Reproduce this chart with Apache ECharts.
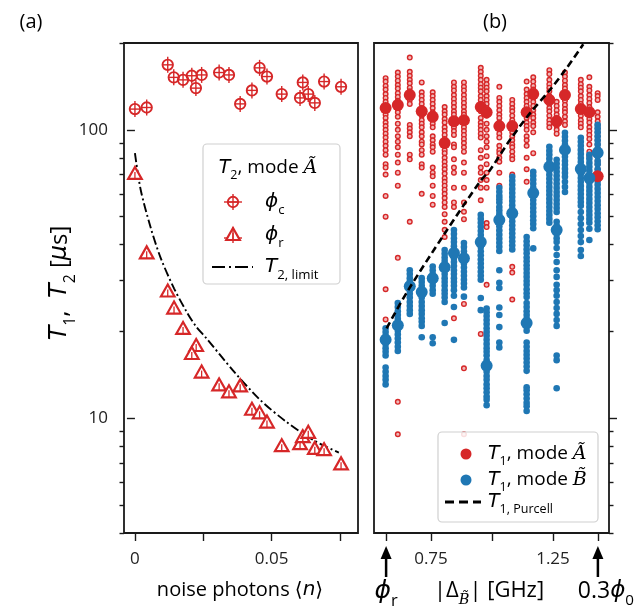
<!DOCTYPE html>
<html>
<head>
<meta charset="utf-8">
<script src="https://cdn.jsdelivr.net/npm/echarts@6/dist/echarts.min.js"></script>
<style>
  html, body { margin: 0; padding: 0; background: #fff; }
  #chart { width: 641px; height: 607px; }
</style>
</head>
<body>
<div id="chart"></div>
<script>
  var RED = '#d62728', BLUE = '#1f77b4', INK = '#1a1a1a';
  var SANS = '"Open Sans", "DejaVu Sans", sans-serif';
  var MATH = '"DejaVu Sans", sans-serif';
  var SCRIPT = '"DejaVu Serif", serif';

  // ---- panel (a): T2 vs noise photons ----
  var photonsC = [0, 0.0043, 0.012, 0.0142, 0.0176, 0.0208, 0.0223, 0.0244, 0.0308, 0.0344, 0.0385,
                  0.0428, 0.0456, 0.0483, 0.0537, 0.0604, 0.0614, 0.0634, 0.0658, 0.0692, 0.0754];
  var t2C = [118, 119.5, 168, 152, 149, 154, 139.5, 155, 158, 155, 123,
             137, 164, 153, 133, 129, 146, 133, 124, 147, 141];
  var photonsR = [0, 0.0043, 0.012, 0.0143, 0.0176, 0.0224, 0.0208, 0.0244, 0.0308, 0.0344, 0.0385,
                  0.0428, 0.0456, 0.0483, 0.0537, 0.0604, 0.0614, 0.0634, 0.0658, 0.0692, 0.0754];
  var t2R = [70.3, 37.3, 27.5, 24.0, 20.4, 17.8, 16.7, 14.4, 13.0, 12.3, 12.9,
             10.7, 10.4, 9.66, 8.0, 8.13, 8.6, 8.9, 7.83, 7.75, 6.92];
  var limitN = [0, 0.0021, 0.0057, 0.0094, 0.0143, 0.0189, 0.0222, 0.0262, 0.036, 0.0457, 0.0555, 0.0652, 0.0746];
  var limitT2 = [83, 62, 46, 36, 28.2, 23.4, 20.9, 18.9, 14.6, 11.6, 9.7, 8.4, 7.6];

  // ---- panel (b): T1 vs detuning ----
  var detuning = [0.564, 0.614, 0.663, 0.712, 0.757, 0.806, 0.844, 0.885, 0.954, 0.978,
                  1.030, 1.083, 1.142, 1.169, 1.235, 1.265, 1.299, 1.364, 1.399, 1.433];
  var t1MedA = [119, 122, 132, 116, 111, 90, 107, 108, 120, 115,
                103, 103, 115, 133, 127, 107, 132, 118, 115, 69];
  var t1MedB = [18.7, 21.0, 28.7, 27.4, 30.6, 33.4, 37.4, 35.9, 40.8, 15.2,
                48.7, 51.4, 21.4, 60.4, 74.4, 44.9, 85.2, 73.2, 68.1, 83.2];
  var t1PtsA = [
    [151,147,142,138,133,129,125,121,117,113,110,106,103,100,97,94,91,88,85,82,76,74,70,59,50,28,22],
    [158,153,148,143,139,134,130,126,122,118,115,111,105,100,95,91,87,82,77,71,64,36,11.4,8.8],
    [178,159,154,149,145,140,136,131,127,123,104,101,98,95,82,79,48],
    [146,135,131,127,123,119,115,112,108,105,102,98,95,91,89,85,82,76,74,60],
    [135,131,127,123,119,115,112,108,105,102,95,92,89,87,84,74,71,69,64,59,55],
    [120,116,113,109,106,102,99,96,93,90,85,83,80,77.5,75,73,70.5,68,66,64,62,60,58,56,54,51,48,45,42.5],
    [146,141,137,132,128,124,120,116,113,109,106,102,99,96,89,87,79,74,71,63,56,54,22.2],
    [146,141,137,132,128,124,120,116,113,109,102,99,96,93,90,87,84,77,71,63,56,52,49,24.9,14.9,8.8],
    [164,159,154,149,144,140,136,131,127,123,119,116,110,106,103,100,97,94,85,80,74,71,67,63,57,19.6],
    [149,144,140,136,131,127,123,119,115,112,105,100,95,91,87,81,76,71,67,63,47.5,46,29],
    [141,129,125,121,117,113,110,106,103,100,97,94,88,85,83,80,77.5,71,64],
    [127,123,119,116,112,108,105,102,98,95,92,89,87,84,81,79,70,33.5,32,25.8],
    [147,138,133,129,125,121,117,113,110,106,103,100,95,92,88,80,73,66],
    [152,147,142,138,133,129,125,121,117,113,110,106,103,98,83,71],
    [161,156,149,144,140,136,131,127,123,119,116,112,108,105,102],
    [125,121,117,113,110,106,103,100,97],
    [158,153,148,143,139,134,130,126,122,118,115,111,107,104],
    [149,144,140,136,131,127,123,119,116,112,108,105,102],
    [152,141,137,132,128,124,120,116,113,109,106,102,99,96,93,89,84,81],
    [134,131,127,115,111,107,104,101,98,95,92,89,86,83,81,78,76,73,71,68,67]
  ];
  var t1PtsB = [
    [20.5,19.9,19.3,18.7,18.1,17.5,17.0,16.5,15.0,14.5,14.0,13.6,13.1],
    [25.1,24.3,23.5,22.8,22.1,21.4,20.7,20.1,19.5,18.9,18.3,17.7,17.1],
    [32.6,31.6,30.6,29.7,28.8,27.8,27.0,26.2,25.3,24.5,23.7,23.0],
    [30.6,29.7,28.8,27.8,27.0,26.2,25.3,24.5,23.7,23.0,22.2,21.6,20.9,19.1],
    [33.6,32.6,31.6,30.6,29.7,28.8,27.8,27.0,19.1,18.2],
    [38.3,37.2,36.1,35.1,34.0,32.6,31.6,30.6,29.7,28.8,27.8,27.0,26.2,25.3,21.4],
    [44.9,43.5,42.1,40.8,39.5,38.3,37.0,35.9,34.8,33.7,32.6,31.6,30.6,29.7,28.8,27.8,26.6,24.3,18.7],
    [40.5,39.2,37.9,36.7,35.5,34.4,33.3,32.2,31.2,30.2,29.3,28.4,26.4],
    [50.7,49.1,47.6,46.1,44.6,43.2,41.8,40.5,39.2,37.9,36.7,35.5,34.4,33.3,32.2,31.2,30.2,26.1,23.7],
    [24.0,23.3,22.6,21.9,21.2,20.5,19.9,19.3,18.7,18.1,17.5,17.0,16.5,15.9,15.4,15.0,14.5,14.0,13.6,13.1,12.7,12.3,11.9,11.6,11.1],
    [63,61,59,57.5,56,54,52.5,51,49.3,47.8,46.3,44.8,43.3,41.9,40.6,39.3,38.0,32.6,29.5,28.3,24.2,22.8,20.7,18.3,17.6],
    [68.7,66.6,64.5,62.4,60.4,58.5,56.6,54.8,53.1,51.4,49.8,48.2,46.7,45.2,43.8,42.4,41.1,39.8,38.5],
    [42.5,41.1,39.8,38.5,37.3,36.1,35.0,33.9,32.9,31.9,30.9,29.9,29.0,28.0,27.1,26.3,25.1,24.3,23.5,22.8,22.1,21.4,20.7,20.1,
     18.3,17.7,17.1,16.6,16.1,15.6,15.1,14.6,12.8,12.5,12.1,11.7,11.3,11.0,10.6],
    [71.5,69.3,67.1,65,62.9,60.9,59,57.1,55.3,53.6,51.9,50.2,48.6,47.1,45.6,38.8],
    [87.3,84.5,81.9,79.3,76.8,74.4,72.1,69.8,67.6,65.5,63.4,61.4,59.5,57.6,55.8,54.0,52.3,50.7,49.1,47.6],
    [78.7,76.2,73.8,71.5,69.3,67.1,65.0,62.9,60.9,59,57.1,55.3,53.6,51.9,48,46.5,44.9,43.5,42.1,40.8,38.9,36.8,34.8,
     32.6,30.9,29.0,27.8,26.6,25.3,24.1,23.0,21.9,20.9,16.5,15.9,12.7],
    [97.6,94.6,91.6,88.7,85.9,83.2,80.6,78.0,75.6,73.2,70.9,68.7,66.0,63.4,60.9],
    [93.8,90.9,88.0,85.2,82.5,79.9,77.4,75.0,72.6,70.3,68.1,66.0,63.9,61.9,59.9,58.0,56.2,54.5,51.9,49.4,47.1,44.9,42.8,40.8,38.3,36.5],
    [81.9,79.3,76.8,74.4,72.1,69.8,67.6,65.5,63.4,61.4,59.5,57.6,55.8,54.0,52.3,50.7,49.1,47.6,45.4,41.5],
    [104,101,98,95,92,89,86,83,81,78,76,73,71,69,66.5,64.5,62.4,60.4,58.5,56.6,54.8,53.1,51.4,49.8,48.2,46.7,45.2]
  ];
  var purcellD = [0.568, 0.653, 0.807, 0.951, 0.992, 1.074, 1.156, 1.238, 1.306, 1.374];
  var purcellT1 = [20.5, 27.5, 43.8, 66.2, 72.6, 92.3, 114.3, 137.7, 163.8, 198];

  // ---- ticks ----
  var yMajor = [10, 100];
  var yMinor = [4.001, 5, 6, 7, 8, 9, 20, 30, 40, 50, 60, 70, 80, 90, 199.9];
  var xTicksA = [0, 0.025, 0.05, 0.075];
  var xLabelsA = [0, 0.05];
  var xTicksB = [0.566, 0.75, 1.0, 1.25, 1.434];
  var xLabelsB = [0.75, 1.25];
  var arrowTicksB = [0.566, 1.434];

  function zip(xs, ys) {
    return xs.map(function(x, i) { return [x, ys[i]]; });
  }
  function flatten(xs, lists) {
    var out = [];
    lists.forEach(function(list, i) {
      list.forEach(function(v) { out.push([xs[i], v]); });
    });
    return out;
  }

  // circle marker with error bar cross
  function circleErr(x, y, z) {
    return [
      { type: 'line', z: z, shape: { x1: x, y1: y - 8, x2: x, y2: y + 8 }, style: { stroke: RED, lineWidth: 1.4 } },
      { type: 'line', z: z, shape: { x1: x - 5, y1: y, x2: x + 5, y2: y }, style: { stroke: RED, lineWidth: 1.4 } },
      { type: 'circle', z: z, shape: { cx: x, cy: y, r: 5.2 }, style: { fill: 'none', stroke: RED, lineWidth: 1.9 } }
    ];
  }
  function trianglePts(x, y) {
    return [[x, y - 7], [x - 6.8, y + 5], [x + 6.8, y + 5]];
  }
  function triangleErr(x, y, z) {
    return [
      { type: 'polygon', z: z, shape: { points: trianglePts(x, y) }, style: { fill: '#fff', stroke: RED, lineWidth: 2.2 } },
      { type: 'line', z: z, shape: { x1: x, y1: y - 2, x2: x, y2: y + 5 }, style: { stroke: RED, lineWidth: 1.3 } }
    ];
  }
  function renderCircleErr(params, api) {
    var p = api.coord([api.value(0), api.value(1)]);
    return { type: 'group', children: circleErr(p[0], p[1]) };
  }
  function renderTriangle(params, api) {
    var p = api.coord([api.value(0), api.value(1)]);
    return { type: 'group', children: triangleErr(p[0], p[1]) };
  }

  function yAxisCfg(grid, pos, ticks, len, labels) {
    return {
      gridIndex: grid, type: 'log', position: pos, min: 4, max: 200,
      axisLine: { show: false }, splitLine: { show: false },
      axisTick: { show: true, customValues: ticks, length: len, lineStyle: { color: INK, width: 1.4 } },
      axisLabel: labels ? {
        customValues: labels, margin: 16, fontSize: 17, fontFamily: SANS, color: '#222',
        formatter: function(v) { return String(Math.round(v)); }
      } : { show: false }
    };
  }
  function xAxisCfg(grid, min, max, ticks, labels) {
    return {
      gridIndex: grid, type: 'value', position: 'bottom', min: min, max: max,
      axisLine: { show: false, onZero: false }, splitLine: { show: false },
      axisTick: { show: true, customValues: ticks, length: 8, lineStyle: { color: INK, width: 1.4 } },
      axisLabel: { customValues: labels, margin: 18, fontSize: 17, fontFamily: SANS, color: '#222',
        formatter: function(v) { return String(v); } }
    };
  }

  var chart = echarts.init(document.getElementById('chart'), null, { renderer: 'canvas' });
  var gridBox = { show: true, borderColor: INK, borderWidth: 1.8, backgroundColor: '#fff', containLabel: false };

  chart.setOption({
    animation: false,
    backgroundColor: '#fff',
    grid: [
      Object.assign({ left: 124, top: 43, width: 234, height: 490 }, gridBox),
      Object.assign({ left: 374, top: 43, width: 235, height: 490 }, gridBox)
    ],
    xAxis: [
      xAxisCfg(0, -0.004, 0.0816, xTicksA, xLabelsA),
      xAxisCfg(1, 0.5164, 1.4795, xTicksB, xLabelsB)
    ],
    yAxis: [
      yAxisCfg(0, 'left', yMajor, 8, yMajor),
      yAxisCfg(0, 'left', yMinor, 4.5, null),
      yAxisCfg(1, 'right', yMajor, 8, null),
      yAxisCfg(1, 'right', yMinor, 4.5, null)
    ],
    series: [
      { type: 'line', name: 'T2 limit', xAxisIndex: 0, yAxisIndex: 0, data: zip(limitN, limitT2),
        smooth: 0.3, symbol: 'none', z: 2,
        lineStyle: { color: '#000', width: 1.9, type: [9, 3, 2, 3] } },
      { type: 'custom', name: 'phi_c', xAxisIndex: 0, yAxisIndex: 0, data: zip(photonsC, t2C),
        renderItem: renderCircleErr, z: 3 },
      { type: 'custom', name: 'phi_r', xAxisIndex: 0, yAxisIndex: 0, data: zip(photonsR, t2R),
        renderItem: renderTriangle, z: 3 },

      { type: 'scatter', name: 'T1 A', xAxisIndex: 1, yAxisIndex: 2, data: flatten(detuning, t1PtsA),
        symbol: 'circle', symbolSize: 4.6, z: 2,
        itemStyle: { color: '#f0b8b8', borderColor: RED, borderWidth: 1.4, opacity: 1 } },
      { type: 'scatter', name: 'T1 B', xAxisIndex: 1, yAxisIndex: 2, data: flatten(detuning, t1PtsB),
        symbol: 'circle', symbolSize: 6.6, z: 3, itemStyle: { color: BLUE, opacity: 1 } },
      { type: 'scatter', name: 'T1 A median', xAxisIndex: 1, yAxisIndex: 2, data: zip(detuning, t1MedA),
        symbol: 'circle', symbolSize: 12, z: 4, itemStyle: { color: RED, opacity: 1 } },
      { type: 'scatter', name: 'T1 B median', xAxisIndex: 1, yAxisIndex: 2, data: zip(detuning, t1MedB),
        symbol: 'circle', symbolSize: 12, z: 5, itemStyle: { color: BLUE, opacity: 1 } },
      { type: 'line', name: 'T1 Purcell', xAxisIndex: 1, yAxisIndex: 2, data: zip(purcellD, purcellT1),
        smooth: 0.3, symbol: 'none', z: 6,
        lineStyle: { color: '#000', width: 2.6, type: [7, 4] } }
    ]
  });

  // rich text styles for math-ish labels
  function mathRich(size) {
    var lh = size * 1.5;
    return {
      n: { fontFamily: SANS, fontSize: size, lineHeight: lh, color: INK },
      i: { fontFamily: MATH, fontStyle: 'italic', fontSize: size, lineHeight: lh, color: INK },
      c: { fontFamily: SCRIPT, fontStyle: 'italic', fontSize: size, lineHeight: lh, color: INK },
      s: { fontFamily: SANS, fontSize: size * 0.66, lineHeight: size * 0.8, verticalAlign: 'bottom', color: INK },
      si: { fontFamily: SCRIPT, fontStyle: 'italic', fontSize: size * 0.66, lineHeight: size * 0.8, verticalAlign: 'bottom', color: INK }
    };
  }
  function label(x, y, text, size, align, extra) {
    return Object.assign({
      type: 'text', x: x, y: y, z: 120,
      style: { text: text, rich: mathRich(size), align: align || 'center', verticalAlign: 'middle' }
    }, extra || {});
  }
  function arrow(x) {
    return [
      { type: 'line', z: 120, shape: { x1: x, y1: 577, x2: x, y2: 556 }, style: { stroke: '#000', lineWidth: 2.5 } },
      { type: 'polygon', z: 120, shape: { points: [[x, 546], [x - 5.5, 559], [x + 5.5, 559]] }, style: { fill: '#000' } }
    ];
  }

  var arrowX = arrowTicksB.map(function(v) { return chart.convertToPixel({ xAxisIndex: 1 }, v); });

  var graphics = [
    label(31, 22, '{n|(a)}', 20),
    label(495, 22, '{n|(b)}', 20),
    label(60, 283, '{i|T}{s|1}{n|,  }{i|T}{s|2}{n| [}{i|μ}{n|s]}', 24, 'center', { rotation: Math.PI / 2 }),
    label(240, 590, '{n|noise photons }{n|⟨}{i|n}{n|⟩}', 20),
    label(489, 591, '{n||Δ}{si|B̃}{n|| [GHz]}', 22),
    label(arrowX[0], 591, '{i|ϕ}{s|r}', 25),
    label(arrowX[1] + 8, 591, '{n|0.3}{i|ϕ}{s|0}', 23)
  ].concat(arrow(arrowX[0]), arrow(arrowX[1]), [
    // legend (a)
    { type: 'rect', z: 110, shape: { x: 203, y: 144, width: 137, height: 140, r: 4 },
      style: { fill: 'rgba(255,255,255,0.85)', stroke: '#d0d0d0', lineWidth: 1.2 } },
    label(268, 168, '{i|T}{s|2}{n|, mode }{c|Ã}', 19),
    { type: 'line', z: 120, shape: { x1: 224, y1: 202, x2: 242, y2: 202 }, style: { stroke: RED, lineWidth: 1.4 } }
  ], circleErr(233, 202, 120), [
    label(265, 202, '{i|ϕ}{s|c}', 20, 'left'),
    { type: 'line', z: 120, shape: { x1: 224, y1: 238, x2: 242, y2: 238 }, style: { stroke: RED, lineWidth: 1.4 } },
    { type: 'line', z: 121, shape: { x1: 233, y1: 227, x2: 233, y2: 243 }, style: { stroke: RED, lineWidth: 1.4 } }
  ], triangleErr(233, 235, 120), [
    label(265, 235, '{i|ϕ}{s|r}', 20, 'left'),
    { type: 'line', z: 120, shape: { x1: 212, y1: 267, x2: 253, y2: 267 },
      style: { stroke: '#000', lineWidth: 1.9, lineDash: [13, 4, 2, 4] } },
    label(265, 267, '{i|T}{s|2, limit}', 20, 'left'),

    // legend (b)
    { type: 'rect', z: 110, shape: { x: 438, y: 432, width: 160, height: 90, r: 4 },
      style: { fill: 'rgba(255,255,255,0.85)', stroke: '#d0d0d0', lineWidth: 1.2 } },
    { type: 'circle', z: 120, shape: { cx: 466, cy: 454, r: 5.5 }, style: { fill: RED } },
    label(488, 454, '{i|T}{s|1}{n|, mode }{c|Ã}', 19, 'left'),
    { type: 'circle', z: 120, shape: { cx: 466, cy: 480, r: 5.5 }, style: { fill: BLUE } },
    label(488, 480, '{i|T}{s|1}{n|, mode }{c|B̃}', 19, 'left'),
    { type: 'line', z: 120, shape: { x1: 445, y1: 502, x2: 481, y2: 502 },
      style: { stroke: '#000', lineWidth: 2.8, lineDash: [9, 5] } },
    label(488, 502, '{i|T}{s|1, Purcell}', 19, 'left')
  ]);

  chart.setOption({ graphic: graphics });
</script>
</body>
</html>
